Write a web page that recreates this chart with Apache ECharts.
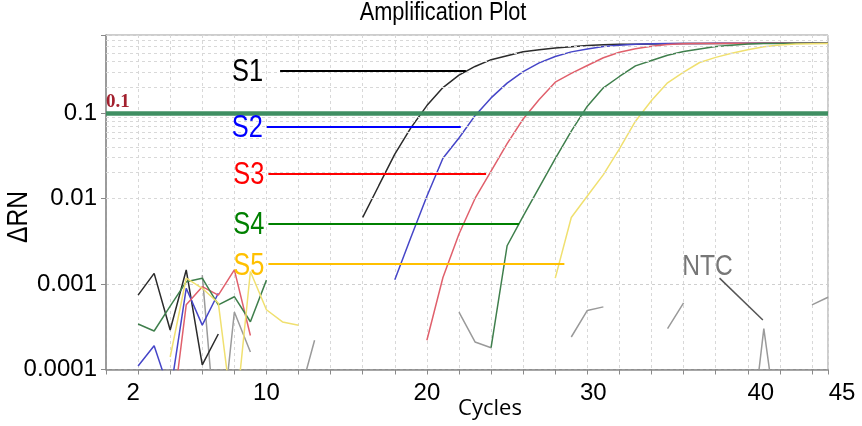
<!DOCTYPE html>
<html><head><meta charset="utf-8">
<script src="https://cdn.jsdelivr.net/npm/echarts@6/dist/echarts.min.js"></script>
<style>html,body{margin:0;padding:0;background:#fff}#c{width:862px;height:426px}</style>
</head><body><div id="c"></div>
<script>
// ---------- data ----------
const cycles = [1,2,3,4,5,6,7,8,9,10,11,12,13,14,15,16,17,18,19,20,21,22,23,24,25,26,27,28,29,30,31,32,33,34,35,36,37,38,39,40,41,42,43,44,45];
const s1 = [null,0.00074,0.00133,0.00029,0.00146,0.000113,0.00026,null,null,null,null,null,null,null,null,
  0.006,0.0141,0.033,0.067,0.122,0.198,0.277,0.35,0.42,0.467,0.52,0.547,0.575,0.596,0.617,0.627,0.634,0.638,0.642,0.645,0.647,0.648,0.649,0.65,0.651,0.652,0.652,0.653,0.653,0.653];
const s2 = [null,0.00011,0.00019,0.000052,0.00089,0.00033,0.00078,null,null,null,null,null,null,null,null,null,null,
  0.00112,0.0035,0.0106,0.0295,0.051,0.093,0.15,0.223,0.305,0.385,0.457,0.518,0.56,0.598,0.621,0.637,0.645,0.649,0.651,0.651,0.652,0.652,0.652,0.653,0.653,0.653,0.653,0.653];
const s3 = [null,null,null,0.000018,0.00057,0.00093,0.00074,0.00146,0.00025,null,null,null,null,null,null,null,null,null,null,
  0.00022,0.00119,0.00384,0.01,0.0209,0.0437,0.085,0.144,0.229,0.29,0.359,0.442,0.513,0.562,0.603,0.631,0.645,0.649,0.651,0.652,0.652,0.653,0.653,0.653,0.653,0.653];
const s4 = [null,0.00034,0.000282,0.00055,0.00106,0.00117,0.00057,0.00071,0.000362,0.00111,null,null,null,null,null,null,null,null,null,null,null,null,null,
  0.00018,0.0028,0.0062,0.0135,0.0292,0.0614,0.12,0.197,0.267,0.355,0.41,0.473,0.522,0.56,0.598,0.621,0.641,0.647,0.65,0.652,0.653,0.653];
const s5 = [null,null,null,0.00014,0.00117,0.00089,0.0006,0.00002,0.0014,0.0005,0.00036,0.00033,null,null,null,null,null,null,null,null,null,null,null,null,null,null,null,
  0.00117,0.006,0.0107,0.019,0.038,0.08,0.14,0.225,0.30,0.389,0.447,0.50,0.55,0.596,0.624,0.641,0.645,0.65];
const ntc = [null,null,null,null,null,0.00127,0.000008,0.00047,0.00016,null,null,0.000045,0.00022,null,null,null,null,null,null,null,null,
  0.00047,0.00021,0.00018,null,null,null,null,0.00024,0.00049,0.00054,null,null,null,0.0003,0.0006,null,null,null,0.0000075,0.0003,0.000013,null,0.00057,0.0007];
const sampleNames = ['S1','S2','S3','S4','S5'];
const threshold = 0.1;
const xTickLabels = [2,10,20,30,40,45];
const yTickLabels = ['0.0001','0.001','0.01','0.1'];
// annotation leader lines: [startCycle, endCycle, level]
const leaderLines = [[10.85,22.43,0.313],[10.02,22.11,0.0692],[10.12,23.69,0.0197],[10.12,25.75,0.00513],[10.12,28.57,0.00171]];
const ntcPointer = [[38.24,0.00117],[40.94,0.00038]];

// ---------- styles ----------
const SANS = "'Liberation Sans',Arial,sans-serif";
const NARROW_SCALE = 0.82;
const curveColors = ['#2b2b2b','#4646c8','#e0606c','#3f7f4c','#f0e070'];
const labelColors = ['#000000','#0000ff','#ff0000','#008000','#ffc000'];
const labelGap = [17,4,4,4,4];
const xShift = {2:[0,10,0,0],10:[0,0,0,0],20:[0,0,0,0],30:[0,0,0,12],40:[0,0,0,26],45:[0,0,0,28]};

const toPairs = arr => cycles.map((c,i)=>[c, arr[i]]);
const seriesVals = [s1,s2,s3,s4,s5];

const minorVals = [];
for (let e=-4; e<=-1; e++) for (let m=2; m<=9; m++) { const v = m*Math.pow(10,e); if (v < 0.82) minorVals.push(v); }

const series = [];
series.push({
  type:'line', data:[], z:1, silent:true,
  markLine:{ silent:true, symbol:['none','none'], animation:false, label:{show:false},
    lineStyle:{color:'#d8d8d8', type:[3,3], width:1},
    data: minorVals.map(v=>({yAxis:v})) }
});
seriesVals.forEach((vals, k) => {
  const ll = leaderLines[k];
  series.push({
    name: sampleNames[k], type:'line', data: toPairs(vals), showSymbol:false, symbol:'none',
    connectNulls:false, clip:true, z:3,
    lineStyle:{color:curveColors[k], width:1.5},
    markLine:{ silent:true, symbol:['none','none'], animation:false,
      lineStyle:{color:labelColors[k], width:2, type:'solid'},
      label:{show:false},
      data:[[{coord:[ll[0],ll[2]]},{coord:[ll[1],ll[2]]}]] }
  });
});
series.push({
  name:'NTC', type:'line', data: toPairs(ntc), showSymbol:false, symbol:'none', clip:true, z:2,
  lineStyle:{color:'#9a9a9a', width:1.5},
  markLine:{ silent:true, symbol:['none','none'], animation:false,
    lineStyle:{color:'#555', width:1.5, type:'solid'},
    label:{show:false},
    data:[[{coord:ntcPointer[0]},{coord:ntcPointer[1]}]] }
});
series.push({
  name:'Threshold', type:'line', data:[], z:4,
  markLine:{ silent:true, symbol:['none','none'], animation:false,
    lineStyle:{color:'#3f8f62', width:4.5, type:'solid'},
    label:{show:true, position:'insideStartTop', formatter:'0.1', color:'#a3202e',
      fontFamily:"'Liberation Serif',serif", fontWeight:'bold', fontSize:19, distance:[0,1]},
    data:[{yAxis:threshold}] }
});

const rich = {};
xTickLabels.forEach(v => { rich['x'+v] = {fontSize:24, fontFamily:SANS, color:'#000', padding:xShift[v]}; });

const chart = echarts.init(document.getElementById('c'), null, {renderer:'canvas'});
chart.setOption({
  animation:false,
  backgroundColor:'#fff',
  grid:{ left:106, right:34, top:35, bottom:56.5, containLabel:false, outerBoundsMode:'none',
    show:true, borderColor:'#9a9a9a', borderWidth:1, backgroundColor:'#fff' },
  xAxis:{ type:'value', min:0, max:45, interval:2,
    name:'Cycles', nameLocation:'middle', nameGap:28, nameMoveOverlap:false,
    nameTextStyle:{fontFamily:"'Open Sans',sans-serif", fontSize:22, color:'#000', padding:[0,0,0,46]},
    axisLine:{show:true, lineStyle:{color:'#8a8a8a', width:1.5}},
    axisTick:{show:true, length:5, lineStyle:{color:'#8a8a8a'}},
    axisLabel:{ margin:12, formatter: v => xTickLabels.indexOf(v) >= 0 ? '{x'+v+'|'+v+'}' : '', rich: rich },
    splitLine:{show:true, lineStyle:{color:'#d8d8d8', type:[3,3]}} },
  yAxis:{ type:'log', logBase:10, min:0.0001, max:0.816,
    axisLine:{show:true, lineStyle:{color:'#8a8a8a', width:1.5}},
    axisTick:{show:true, length:5, lineStyle:{color:'#8a8a8a'}},
    axisLabel:{ margin:9, fontSize:24, fontFamily:SANS, color:'#000',
      formatter: v => { const l = Math.log10(v); const r = Math.round(l); if (Math.abs(l-r) > 1e-6) return ''; const i = r + 4; return (i>=0 && i<yTickLabels.length) ? yTickLabels[i] : ''; } },
    splitLine:{show:true, lineStyle:{color:'#cfcfcf', type:[3,3]}} },
  series: series
});

// ---------- condensed text annotations (positioned through the axes) ----------
const narrowText = (x, y, text, color, size, align, rotation) => ({
  type:'text', x:x, y:y, rotation: rotation || 0, scaleX: NARROW_SCALE, silent:true, z:10,
  style:{ x:0, y:0, text:text, fill:color, font: size + "px 'Liberation Sans', Arial, sans-serif",
    align: align, verticalAlign:'middle' }
});
const g = [];
g.push(narrowText(443, 13, 'Amplification Plot', '#000', 26.5, 'center'));
g.push(narrowText(19, 217, 'ΔRN', '#000', 30, 'center', Math.PI/2));
leaderLines.forEach((ll, k) => {
  const p = chart.convertToPixel({gridIndex:0}, [ll[0], ll[2]]);
  g.push(narrowText(p[0] - labelGap[k], p[1] + 2, sampleNames[k], labelColors[k], 31, 'right'));
});
const np = chart.convertToPixel({gridIndex:0}, ntcPointer[0]);
g.push(narrowText(np[0] - 12, np[1] - 11, 'NTC', '#777', 30, 'center'));
chart.setOption({ graphic: g });
</script></body></html>
